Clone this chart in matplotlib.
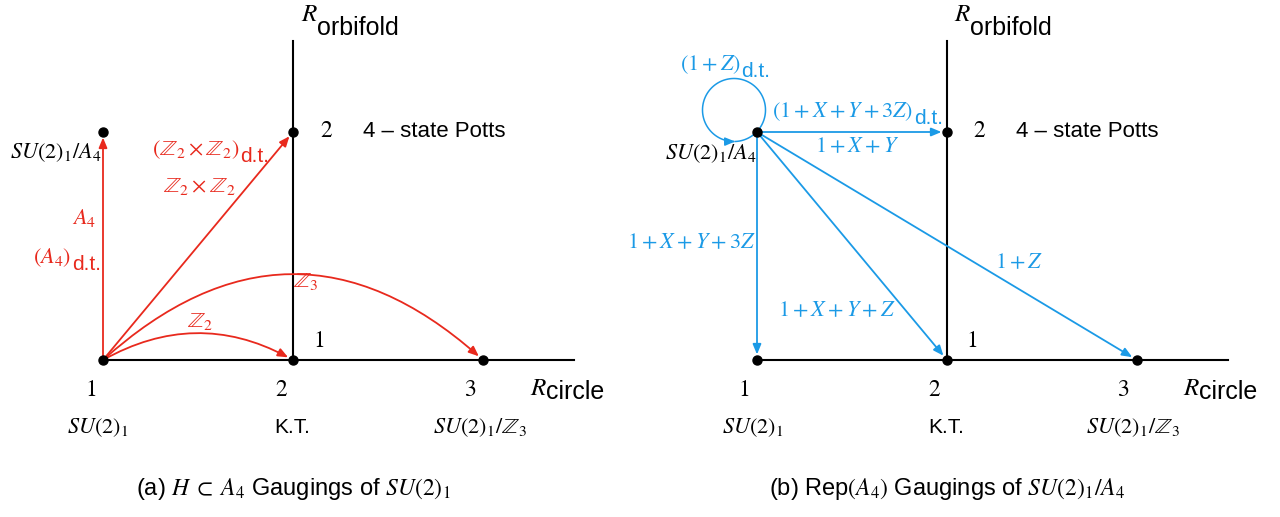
import numpy as np
import matplotlib.pyplot as plt
import matplotlib.transforms as mtransforms
from matplotlib.patches import FancyArrowPatch
from matplotlib.path import Path

plt.rcParams['mathtext.fontset'] = 'stix'
plt.rcParams['font.family'] = ['Liberation Sans', 'DejaVu Sans']

RED = '#e8291d'
BLUE = '#1b9ae6'

# nodes: (R_circle, R_orbifold)
circle_r = [1, 2, 3]
circle_level = [1, 1, 1]
circle_names = [r'$SU(2)_1$', 'K.T.', r'$SU(2)_1/\mathbb{Z}_3$']
orbifold_r = [1, 2]
orbifold_level = [2, 2]
axis_x_end = 3.48
axis_y_end = 2.40

# (a) H c A4 gaugings, all starting from SU(2)_1 at (1, 1)
a_targets = [(1, 2), (2, 2), (3, 1), (2, 1)]
a_rad = [0, 0, -0.45, -0.28]

# (b) Rep(A4) gaugings, all starting from SU(2)_1/A4 at (1, 2)
b_targets = [(2, 2), (1, 1), (2, 1), (3, 1)]

W, H = 1280, 517
fig = plt.figure(figsize=(12.8, 5.17), dpi=100)


def label(px, py, s, **kw):
    kw.setdefault('va', 'baseline')
    kw.setdefault('fontsize', 16)
    return fig.text(px / W, 1 - py / H, s, **kw)


def after(ax, prev, s, dx, dy, **kw):
    # put a text right behind another one (subscripts like d.t.)
    kw.setdefault('fontsize', 16)
    return ax.annotate(s, xy=(1, 0), xycoords=prev, xytext=(dx, dy),
                       textcoords='offset points', va='baseline', ha='left',
                       annotation_clip=False, **kw)


def panel(rect, x0px):
    ax = fig.add_axes(rect)
    # 190 px per unit of R_circle, 228 px per unit of R_orbifold
    ax.set_xlim(1 - x0px / 190, 1 + (640 - x0px) / 190)
    ax.set_ylim(1 - 157 / 228, 2 + 132 / 228)
    ax.axis('off')
    ax.plot([1, axis_x_end], [1, 1], color='black', lw=1.5, zorder=2)
    ax.plot([2, 2], [1, axis_y_end], color='black', lw=1.5, zorder=2)
    ax.plot(circle_r, circle_level, 'o', color='black', ms=6.5, zorder=6)
    ax.plot(orbifold_r, orbifold_level, 'o', color='black', ms=6.5, zorder=6)
    return ax


def arrow(ax, src, dst, color, rad=0.0):
    ax.add_patch(FancyArrowPatch(src, dst,
                                 arrowstyle='-|>,head_length=0.6,head_width=0.25',
                                 mutation_scale=10, connectionstyle=f'arc3,rad={rad}',
                                 color=color, lw=1.3, shrinkA=0, shrinkB=4, zorder=4))


def axis_text(ax, off, name_x):
    r = label(301 + off, 21, '$R$', fontsize=18)
    after(ax, r, 'orbifold', -0.5, -6.5, fontsize=18)
    label(327 + off, 137, '$2$', fontsize=17, ha='center')
    label(363 + off, 137, '4 – state Potts', fontsize=16)
    label(319 + off, 347, '$1$', fontsize=17, ha='center')
    for i, cx in enumerate([91, 282, 470]):
        label(cx + off, 396, f'${circle_r[i]}$', fontsize=17, ha='center')
    r = label(530 + off, 395, '$R$', fontsize=18)
    after(ax, r, 'circle', -0.5, 0.5, fontsize=18)
    for cx, name in zip(name_x, circle_names):
        label(cx + off, 433, name, fontsize=16 if name != 'K.T.' else 15, ha='center')


# ---- panel (a)
ax1 = panel([0, 0, 0.5, 1], 103)
for (tx, ty), rad in zip(a_targets, a_rad):
    arrow(ax1, (1, 1), (tx, ty), RED, rad)
axis_text(ax1, 0, [98, 292, 480])
label(10, 158, r'$SU(2)_1/A_4$')
t = label(152, 155, r'$(\mathbb{Z}_2\times\mathbb{Z}_2)$', color=RED)
after(ax1, t, 'd.t.', 0.5, -1, color=RED, fontsize=15)
label(163, 192, r'$\mathbb{Z}_2\times\mathbb{Z}_2$', color=RED)
label(72, 224, r'$A_4$', color=RED)
t = label(33, 263, r'$(A_4)$', color=RED)
after(ax1, t, 'd.t.', 0.5, -1, color=RED, fontsize=15)
label(293, 287, r'$\mathbb{Z}_3$', color=RED)
label(187, 327, r'$\mathbb{Z}_2$', color=RED)
label(293, 495, r'(a) $H\;\subset\;A_4$ Gaugings of $SU(2)_1$', fontsize=17, ha='center')

# ---- panel (b)
ax2 = panel([0.5, 0, 0.5, 1], 117)
for tx, ty in b_targets:
    arrow(ax2, (1, 2), (tx, ty), BLUE)

# self-loop at SU(2)_1/A4, drawn in inches around the node
trans = fig.dpi_scale_trans + mtransforms.ScaledTranslation(1, 2, ax2.transData)
cx_in, cy_in, r_in = -0.23, 0.22, 0.315
th = np.deg2rad(np.linspace(-44, 272, 120))
loop = np.column_stack([cx_in + r_in * np.cos(th), cy_in + r_in * np.sin(th)])
ax2.add_patch(FancyArrowPatch(path=Path(loop), transform=trans,
                              arrowstyle='-|>,head_length=0.6,head_width=0.25',
                              mutation_scale=10, color=BLUE, lw=1.1, zorder=4))
th2 = np.deg2rad(np.linspace(272, 316, 20))
ax2.plot(cx_in + r_in * np.cos(th2), cy_in + r_in * np.sin(th2), color=BLUE, lw=1.1,
         transform=trans, zorder=4)

axis_text(ax2, 653, [100, 293, 480])
t = label(680, 70, r'$(1+Z)$', color=BLUE)
after(ax2, t, 'd.t.', 0.5, -1, color=BLUE, fontsize=15)
t = label(772, 117, r'$(1+X+Y+3Z)$', color=BLUE)
after(ax2, t, 'd.t.', 0.5, -1, color=BLUE, fontsize=15)
label(815, 152, r'$1+X+Y$', color=BLUE)
label(665, 159, r'$SU(2)_1/A_4$')
label(627, 248, r'$1+X+Y+3Z$', color=BLUE)
label(995, 268, r'$1+Z$', color=BLUE)
label(778, 316, r'$1+X+Y+Z$', color=BLUE)
label(947, 495, r'(b) Rep$(A_4)$ Gaugings of $SU(2)_1/A_4$', fontsize=17, ha='center')

fig.savefig('out.png', dpi=100)
